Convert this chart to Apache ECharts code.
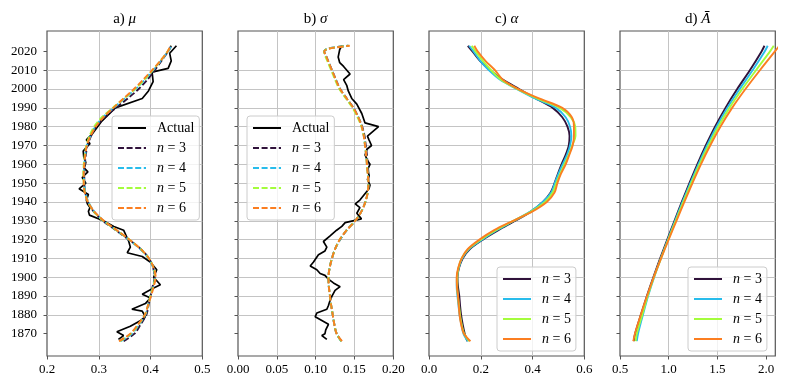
<!DOCTYPE html>
<html>
<head>
<meta charset="utf-8">
<script src="https://cdn.jsdelivr.net/npm/echarts@6/dist/echarts.min.js"></script>
<style>
  html, body { margin: 0; background: #fff; }
  #chart { width: 785px; height: 388px; }
</style>
</head>
<body>
<div id="chart"></div>
<script>
// ---- data ----
const yearTicks = [1870, 1880, 1890, 1900, 1910, 1920, 1930, 1940, 1950, 1960, 1970, 1980, 1990, 2000, 2010, 2020];

// fitted curves, panels a and c
const fitYears = [1866, 1870, 1875, 1880, 1885, 1890, 1895, 1900, 1905, 1910, 1915, 1920, 1925, 1930, 1935, 1940,
  1945, 1950, 1955, 1960, 1965, 1970, 1975, 1980, 1985, 1990, 1995, 2000, 2005, 2010, 2015, 2020, 2023];

// a) mu
const muActualYears = [1867, 1869, 1871, 1874, 1877, 1879, 1882, 1883, 1886, 1889, 1891, 1894, 1896, 1900, 1904,
  1908, 1911, 1913, 1916, 1919, 1925, 1927, 1930, 1933, 1935, 1937, 1939, 1941, 1944, 1947, 1950, 1953, 1956,
  1958, 1961, 1964, 1967, 1969, 1971, 1973, 1976, 1983, 1990, 1995, 1999, 2004, 2009, 2011, 2015, 2019, 2023];
const muActual = [0.338, 0.348, 0.335, 0.361, 0.381, 0.390, 0.384, 0.364, 0.390, 0.400, 0.384, 0.404, 0.419, 0.406,
  0.412, 0.400, 0.384, 0.355, 0.361, 0.358, 0.348, 0.329, 0.309, 0.282, 0.280, 0.283, 0.278, 0.276, 0.280, 0.262,
  0.275, 0.268, 0.279, 0.272, 0.275, 0.271, 0.270, 0.276, 0.283, 0.276, 0.287, 0.306, 0.332, 0.384, 0.396, 0.405,
  0.403, 0.434, 0.440, 0.437, 0.450];
const muN3 = [0.348, 0.369, 0.381, 0.392, 0.396, 0.400, 0.404, 0.408, 0.405, 0.397, 0.381, 0.358, 0.333, 0.308, 0.290,
  0.279, 0.274, 0.272, 0.272, 0.273, 0.275, 0.278, 0.285, 0.295, 0.311, 0.333, 0.356, 0.377, 0.394, 0.408, 0.421, 0.434, 0.440];
const muN4 = [0.342, 0.364, 0.378, 0.390, 0.395, 0.400, 0.405, 0.409, 0.405, 0.396, 0.380, 0.358, 0.334, 0.309, 0.291,
  0.280, 0.274, 0.272, 0.271, 0.272, 0.274, 0.277, 0.284, 0.293, 0.308, 0.329, 0.350, 0.371, 0.389, 0.405, 0.420, 0.434, 0.441];
const muN5 = [0.340, 0.362, 0.377, 0.389, 0.395, 0.400, 0.405, 0.409, 0.406, 0.397, 0.381, 0.359, 0.334, 0.309, 0.290,
  0.279, 0.273, 0.271, 0.270, 0.271, 0.273, 0.276, 0.282, 0.291, 0.306, 0.327, 0.349, 0.370, 0.388, 0.404, 0.419, 0.433, 0.440];
const muN6 = [0.339, 0.361, 0.376, 0.389, 0.395, 0.401, 0.406, 0.410, 0.406, 0.397, 0.381, 0.359, 0.335, 0.310, 0.291,
  0.279, 0.273, 0.271, 0.271, 0.272, 0.274, 0.277, 0.284, 0.294, 0.309, 0.328, 0.348, 0.368, 0.386, 0.403, 0.419, 0.433, 0.439];

// b) sigma
const sigmaActualYears = [1867, 1869, 1870, 1872, 1875, 1876, 1879, 1881, 1883, 1885, 1887, 1890, 1893, 1895, 1897,
  1899, 1901, 1902, 1904, 1906, 1908, 1912, 1914, 1916, 1919, 1922, 1925, 1927, 1929, 1931, 1934, 1937, 1939, 1941,
  1947, 1949, 1952, 1954, 1957, 1960, 1962, 1965, 1968, 1970, 1973, 1975, 1980, 1982, 1987, 1992, 1995, 1999, 2002,
  2005, 2008, 2009, 2012, 2014, 2017, 2021, 2023];
const sigmaActual = [0.1144, 0.108, 0.112, 0.113, 0.1165, 0.1144, 0.0994, 0.1015, 0.1144, 0.1165, 0.118, 0.121, 0.125,
  0.1315, 0.1229, 0.1165, 0.112, 0.1058, 0.1015, 0.093, 0.097, 0.1036, 0.112, 0.1144, 0.110, 0.1186, 0.127, 0.1337,
  0.138, 0.159, 0.153, 0.157, 0.151, 0.157, 0.1687, 0.170, 0.1667, 0.169, 0.1667, 0.170, 0.1667, 0.1637, 0.166, 0.172,
  0.1687, 0.1667, 0.181, 0.1636, 0.1594, 0.153, 0.1465, 0.142, 0.140, 0.136, 0.1443, 0.1465, 0.136, 0.131, 0.129,
  0.131, 0.1337];
const sigmaFitYears = [1866, 1870, 1875, 1880, 1885, 1890, 1895, 1900, 1905, 1910, 1915, 1920, 1925, 1930, 1935, 1940,
  1945, 1950, 1955, 1960, 1965, 1970, 1975, 1980, 1985, 1990, 1995, 2000, 2005, 2010, 2015, 2018, 2020, 2021, 2022, 2023];
const sigmaN3 = [0.133, 0.127, 0.124, 0.122, 0.120, 0.1185, 0.117, 0.1165, 0.118, 0.121, 0.125, 0.1315, 0.140, 0.151,
  0.159, 0.164, 0.167, 0.168, 0.168, 0.167, 0.166, 0.1645, 0.163, 0.160, 0.155, 0.1486, 0.140, 0.1315, 0.126, 0.121,
  0.116, 0.113, 0.111, 0.113, 0.122, 0.142];
const sigmaN4 = [0.133, 0.127, 0.124, 0.122, 0.120, 0.1185, 0.117, 0.1165, 0.118, 0.121, 0.125, 0.1315, 0.140, 0.151,
  0.159, 0.164, 0.167, 0.168, 0.167, 0.166, 0.165, 0.1636, 0.162, 0.1594, 0.155, 0.1486, 0.140, 0.1315, 0.126, 0.121,
  0.116, 0.113, 0.111, 0.113, 0.122, 0.142];
const sigmaN5 = [0.133, 0.127, 0.124, 0.122, 0.120, 0.1185, 0.117, 0.1165, 0.118, 0.121, 0.125, 0.131, 0.140, 0.151,
  0.159, 0.164, 0.167, 0.168, 0.167, 0.166, 0.165, 0.1636, 0.162, 0.159, 0.154, 0.1476, 0.139, 0.1305, 0.125, 0.120,
  0.115, 0.112, 0.111, 0.113, 0.123, 0.143];
const sigmaN6 = [0.134, 0.127, 0.124, 0.122, 0.120, 0.1185, 0.117, 0.1165, 0.118, 0.121, 0.125, 0.131, 0.140, 0.151,
  0.159, 0.164, 0.167, 0.168, 0.167, 0.166, 0.165, 0.1636, 0.162, 0.1594, 0.155, 0.1486, 0.140, 0.1315, 0.126, 0.121,
  0.116, 0.113, 0.111, 0.114, 0.124, 0.144];

// c) alpha
const alphaN3 = [0.148, 0.138, 0.130, 0.124, 0.120, 0.117, 0.112, 0.110, 0.116, 0.130, 0.158, 0.208, 0.268, 0.333, 0.395,
  0.440, 0.470, 0.485, 0.498, 0.512, 0.528, 0.540, 0.543, 0.535, 0.515, 0.478, 0.412, 0.348, 0.285, 0.236, 0.197, 0.168, 0.150];
const alphaN4 = [0.150, 0.133, 0.125, 0.118, 0.114, 0.110, 0.107, 0.108, 0.115, 0.128, 0.155, 0.205, 0.262, 0.328, 0.393,
  0.440, 0.472, 0.486, 0.500, 0.516, 0.533, 0.545, 0.550, 0.545, 0.528, 0.490, 0.410, 0.340, 0.275, 0.232, 0.198, 0.172, 0.155];
const alphaN5 = [0.155, 0.136, 0.126, 0.120, 0.116, 0.112, 0.109, 0.109, 0.114, 0.126, 0.152, 0.200, 0.258, 0.326, 0.396,
  0.448, 0.478, 0.492, 0.507, 0.523, 0.540, 0.553, 0.566, 0.565, 0.548, 0.505, 0.418, 0.342, 0.278, 0.240, 0.208, 0.180, 0.165];
const alphaN6 = [0.160, 0.135, 0.124, 0.118, 0.115, 0.112, 0.108, 0.107, 0.113, 0.126, 0.150, 0.195, 0.252, 0.325, 0.400,
  0.455, 0.485, 0.496, 0.510, 0.528, 0.542, 0.555, 0.560, 0.560, 0.552, 0.515, 0.425, 0.345, 0.285, 0.255, 0.218, 0.188, 0.175];

// d) A bar
const abarYears = [1866, 1870, 1880, 1890, 1900, 1910, 1920, 1930, 1940, 1950, 1960, 1970, 1980, 1990, 2000, 2010, 2020, 2023];
const abarN3 = [0.641, 0.655, 0.714, 0.776, 0.842, 0.912, 0.985, 1.059, 1.134, 1.212, 1.293, 1.380, 1.475, 1.582, 1.702, 1.832, 1.952, 1.982];
const abarN4 = [0.672, 0.685, 0.735, 0.788, 0.850, 0.919, 0.991, 1.065, 1.141, 1.221, 1.304, 1.393, 1.490, 1.600, 1.727, 1.860, 1.984, 2.015];
const abarN5 = [0.660, 0.672, 0.728, 0.784, 0.848, 0.920, 0.995, 1.072, 1.150, 1.231, 1.316, 1.408, 1.508, 1.623, 1.754, 1.895, 2.039, 2.077];
const abarN6 = [0.637, 0.653, 0.713, 0.777, 0.846, 0.921, 0.999, 1.079, 1.160, 1.243, 1.330, 1.425, 1.530, 1.650, 1.787, 1.935, 2.089, 2.135];

const nColors = ['#30123b', '#28bceb', '#a4fc3c', '#fb7e21'];
const titles = [['a) ', 'μ'], ['b) ', 'σ'], ['c) ', 'α'], ['d) ', 'Ā']];
const xRanges = [
  { min: 0.2, max: 0.5, ticks: [0.2, 0.3, 0.4, 0.5], dec: 1 },
  { min: 0, max: 0.2, ticks: [0, 0.05, 0.1, 0.15, 0.2], dec: 2 },
  { min: 0, max: 0.6, ticks: [0, 0.2, 0.4, 0.6], dec: 1 },
  { min: 0.5, max: 2.093, ticks: [0.5, 1.0, 1.5, 2.0], dec: 1 },
];

// ---- layout ----
const serif = '"Liberation Serif", "DejaVu Serif", serif';
const gridTop = 31, gridH = 325, gridW = 155.3;
const gridLeft = i => 47 + 191 * i;

const pairs = (vals, years) => vals.map((v, i) => [v, years[i]]);

function lineSeries(name, vals, years, idx, color, dashed, smooth) {
  return {
    type: 'line', name, xAxisIndex: idx, yAxisIndex: idx,
    data: pairs(vals, years),
    symbol: 'none', smooth: smooth ? 0.3 : false,
    lineStyle: { color, width: smooth ? 1.9 : 1.7, type: dashed ? [6, 2.6] : 'solid' },
    itemStyle: { color },
    emphasis: { disabled: true },
    silent: true, animation: false,
  };
}

const series = [];
series.push(lineSeries('Actual', muActual, muActualYears, 0, '#000', false, false));
[muN3, muN4, muN5, muN6].forEach((d, k) => series.push(lineSeries('n = ' + (k + 3), d, fitYears, 0, nColors[k], true, true)));
series.push(lineSeries('Actual', sigmaActual, sigmaActualYears, 1, '#000', false, false));
[sigmaN3, sigmaN4, sigmaN5, sigmaN6].forEach((d, k) => series.push(lineSeries('n = ' + (k + 3), d, sigmaFitYears, 1, nColors[k], true, true)));
[alphaN3, alphaN4, alphaN5, alphaN6].forEach((d, k) => series.push(lineSeries('n = ' + (k + 3) + ' ', d, fitYears, 2, nColors[k], false, true)));
[abarN3, abarN4, abarN5, abarN6].forEach((d, k) => series.push(lineSeries('n = ' + (k + 3) + ' ', d, abarYears, 3, nColors[k], false, true)));

const grids = [0, 1, 2, 3].map(i => ({
  left: gridLeft(i), top: gridTop, width: gridW, height: gridH,
  show: true, borderColor: '#555', borderWidth: 1.2, backgroundColor: 'transparent',
  outerBoundsMode: 'none', containLabel: false,
}));

const xAxes = xRanges.map((r, i) => ({
  type: 'value', gridIndex: i, min: r.min, max: r.max,
  axisLine: { show: false },
  axisTick: { show: true, customValues: r.ticks, length: 3.5, lineStyle: { color: '#555', width: 1 } },
  axisLabel: {
    customValues: r.ticks, margin: 7, color: '#000', fontFamily: serif, fontSize: 13,
    formatter: v => Number(v).toFixed(r.dec),
  },
  splitLine: { show: true, showMinLine: false, showMaxLine: false, lineStyle: { color: '#c4c4c4', width: 1 } },
}));

const yAxes = [0, 1, 2, 3].map(i => ({
  type: 'value', gridIndex: i, min: 1858.15, max: 2030.85,
  axisLine: { show: false },
  axisTick: { show: true, customValues: yearTicks, length: 3.5, lineStyle: { color: '#555', width: 1 } },
  axisLabel: {
    show: i === 0, customValues: yearTicks, margin: 10, color: '#000', fontFamily: serif, fontSize: 13,
    formatter: v => String(Math.round(v)),
  },
  splitLine: { show: true, showMinLine: false, showMaxLine: false, lineStyle: { color: '#c4c4c4', width: 1 } },
}));

const legendRich = {
  ta: { fontFamily: serif, fontSize: 14, color: '#000', padding: [0, 0, 0, 6] },
  ni: { fontFamily: serif, fontSize: 14, color: '#000', fontStyle: 'italic', padding: [0, 0, 0, 6] },
  t: { fontFamily: serif, fontSize: 14, color: '#000' },
};
function legendBox(left, top, names) {
  return {
    orient: 'vertical', left, top, data: names,
    itemWidth: 28, itemHeight: 14, itemGap: 6, padding: [5, 5, 5, 5],
    backgroundColor: 'rgba(255,255,255,0.8)', borderColor: '#cccccc', borderWidth: 1, borderRadius: 3,
    selectedMode: false,
    itemStyle: { opacity: 0, borderWidth: 0 },
    lineStyle: { width: 2 },
    textStyle: { fontFamily: serif, fontSize: 14, color: '#000', rich: legendRich },
    formatter: name => {
      const t = name.trim();
      return t === 'Actual' ? '{ta|Actual}' : '{ni|n}{t| = ' + t.slice(4) + '}';
    },
  };
}
const dashedNames = ['Actual', 'n = 3', 'n = 4', 'n = 5', 'n = 6'];
const solidNames = ['n = 3 ', 'n = 4 ', 'n = 5 ', 'n = 6 '];

const graphic = titles.map((t, i) => ({
  type: 'text', silent: true,
  style: {
    x: gridLeft(i) + gridW / 2, y: 19,
    text: '{n|' + t[0] + '}{i|' + t[1] + '}',
    align: 'center', verticalAlign: 'middle',
    rich: {
      n: { fontFamily: serif, fontSize: 15, fill: '#000' },
      i: { fontFamily: serif, fontSize: 15, fontStyle: 'italic', fill: '#000' },
    },
  },
}));

const chart = echarts.init(document.getElementById('chart'), null, { renderer: 'canvas' });
chart.setOption({
  backgroundColor: '#fff',
  animation: false,
  grid: grids,
  xAxis: xAxes,
  yAxis: yAxes,
  legend: [
    legendBox(112, 116, dashedNames),
    legendBox(247, 116, dashedNames),
    legendBox(497, 267, solidNames),
    legendBox(688, 267, solidNames),
  ],
  graphic,
  series,
});
</script>
</body>
</html>
